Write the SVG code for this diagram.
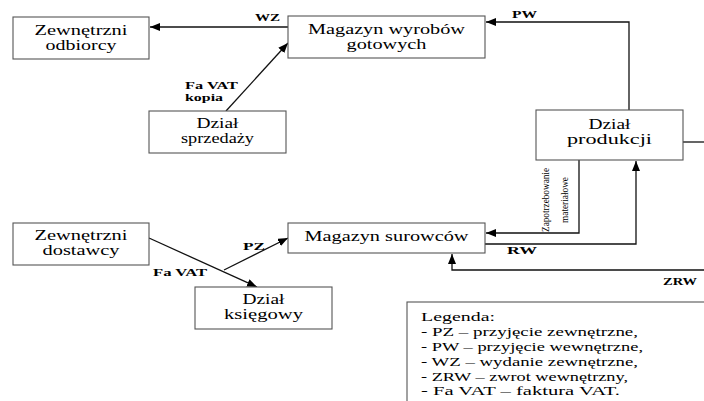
<svg xmlns="http://www.w3.org/2000/svg" width="704" height="401" viewBox="0 0 704 401">
<style>
.box{fill:#fff;stroke:#555;stroke-width:1.1}
.t{font-family:"Liberation Serif","Times New Roman",serif;font-size:15px;fill:#000;text-anchor:middle}
.lbl{font-family:"Liberation Serif","Times New Roman",serif;font-size:11px;font-weight:bold;fill:#000}
.leg{font-family:"Liberation Serif","Times New Roman",serif;font-size:13px;fill:#000}
.vt{font-family:"Liberation Serif","Times New Roman",serif;font-size:9px;fill:#000;text-anchor:middle}
.c{fill:none;stroke:#111;stroke-width:1.3}
</style>
<defs>
<marker id="ah" viewBox="0 0 10 8" refX="10" refY="4" markerWidth="10" markerHeight="8" markerUnits="userSpaceOnUse" orient="auto">
<path d="M0,0 L10,4 L0,8 Z" fill="#000"/>
</marker>
</defs>
<rect width="704" height="401" fill="#fff"/>

<g id="connectors">
<path class="c" d="M288,27 H150" marker-end="url(#ah)"/>
<path class="c" d="M226,111 L288,43" marker-end="url(#ah)"/>
<path class="c" d="M629,110 V22 H486" marker-end="url(#ah)"/>
<path class="c" d="M579,160 V233 H486" marker-end="url(#ah)"/>
<path class="c" d="M485,244 H636 V161" marker-end="url(#ah)"/>
<path class="c" d="M704,270 H452 V254" marker-end="url(#ah)"/>
<path class="c" d="M683,142 H704"/>
<path class="c" d="M149,238 L257,287" marker-end="url(#ah)"/>
<path class="c" d="M224,270 L288,238" marker-end="url(#ah)"/>
<text class="lbl" x="255" y="21" textLength="25" lengthAdjust="spacingAndGlyphs">WZ</text>
<text class="lbl" x="512" y="18" textLength="25" lengthAdjust="spacingAndGlyphs">PW</text>
<text class="lbl" x="185" y="89" textLength="53" lengthAdjust="spacingAndGlyphs">Fa VAT</text>
<text class="lbl" x="185" y="101" textLength="38" lengthAdjust="spacingAndGlyphs">kopia</text>
<text class="lbl" x="243" y="250" textLength="22" lengthAdjust="spacingAndGlyphs">PZ</text>
<text class="lbl" x="153" y="276" textLength="54" lengthAdjust="spacingAndGlyphs">Fa VAT</text>
<text class="lbl" x="507" y="254" textLength="30" lengthAdjust="spacingAndGlyphs">RW</text>
<text class="lbl" x="663" y="285" textLength="34" lengthAdjust="spacingAndGlyphs">ZRW</text>
<text class="vt" transform="translate(549,200) rotate(-90) scale(1,1.2)" textLength="64" lengthAdjust="spacingAndGlyphs">Zapotrzebowanie</text>
<text class="vt" transform="translate(568,200) rotate(-90) scale(1,1.2)" textLength="46" lengthAdjust="spacingAndGlyphs">materiałowe</text>
</g>

<g id="zewnetrzni-odbiorcy">
<rect class="box" x="13" y="17" width="136" height="42"/>
<text class="t" x="81" y="35" textLength="93" lengthAdjust="spacingAndGlyphs">Zewnętrzni</text>
<text class="t" x="81" y="50" textLength="71" lengthAdjust="spacingAndGlyphs">odbiorcy</text>
</g>

<g id="magazyn-wyrobow">
<rect class="box" x="288" y="16" width="197" height="42"/>
<text class="t" x="386.5" y="34" textLength="157" lengthAdjust="spacingAndGlyphs">Magazyn wyrobów</text>
<text class="t" x="386.5" y="49" textLength="80" lengthAdjust="spacingAndGlyphs">gotowych</text>
</g>

<g id="dzial-sprzedazy">
<rect class="box" x="149" y="111" width="137" height="42"/>
<text class="t" x="217.5" y="128" textLength="42" lengthAdjust="spacingAndGlyphs">Dział</text>
<text class="t" x="217.5" y="143" textLength="73" lengthAdjust="spacingAndGlyphs">sprzedaży</text>
</g>

<g id="dzial-produkcji">
<rect class="box" x="536" y="110" width="147" height="50"/>
<text class="t" x="609.5" y="129" textLength="42" lengthAdjust="spacingAndGlyphs">Dział</text>
<text class="t" x="609.5" y="144" textLength="85" lengthAdjust="spacingAndGlyphs">produkcji</text>
</g>

<g id="zewnetrzni-dostawcy">
<rect class="box" x="13" y="223" width="136" height="42"/>
<text class="t" x="81" y="240" textLength="93" lengthAdjust="spacingAndGlyphs">Zewnętrzni</text>
<text class="t" x="81" y="255" textLength="77" lengthAdjust="spacingAndGlyphs">dostawcy</text>
</g>

<g id="magazyn-surowcow">
<rect class="box" x="288" y="223" width="197" height="30"/>
<text class="t" x="386.5" y="241" textLength="164" lengthAdjust="spacingAndGlyphs">Magazyn surowców</text>
</g>

<g id="dzial-ksiegowy">
<rect class="box" x="195" y="287" width="137" height="42"/>
<text class="t" x="263.5" y="304" textLength="42" lengthAdjust="spacingAndGlyphs">Dział</text>
<text class="t" x="263.5" y="319" textLength="79" lengthAdjust="spacingAndGlyphs">księgowy</text>
</g>

<g id="legenda">
<rect class="box" x="407" y="302" width="320" height="120"/>
<text class="leg" x="421" y="321" textLength="74" lengthAdjust="spacingAndGlyphs">Legenda:</text>
<text class="leg" x="421" y="335.5" textLength="217" lengthAdjust="spacingAndGlyphs">- PZ – przyjęcie zewnętrzne,</text>
<text class="leg" x="421" y="350.5" textLength="222" lengthAdjust="spacingAndGlyphs">- PW – przyjęcie wewnętrzne,</text>
<text class="leg" x="421" y="365.5" textLength="217" lengthAdjust="spacingAndGlyphs">- WZ – wydanie zewnętrzne,</text>
<text class="leg" x="421" y="380.5" textLength="207" lengthAdjust="spacingAndGlyphs">- ZRW – zwrot wewnętrzny,</text>
<text class="leg" x="421" y="395" textLength="199" lengthAdjust="spacingAndGlyphs">- Fa VAT – faktura VAT.</text>
</g>
</svg>
